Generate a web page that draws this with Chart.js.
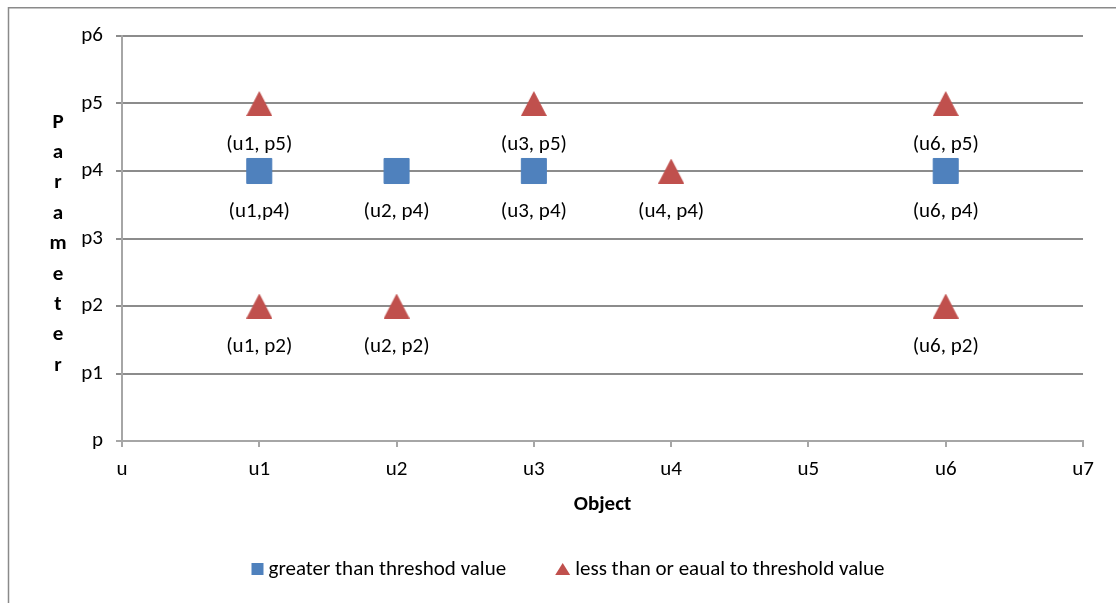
<!DOCTYPE html>
<html>
<head>
<meta charset="utf-8">
<title>Object / Parameter</title>
<script src="https://cdn.jsdelivr.net/npm/chart.js@4/dist/chart.umd.min.js"></script>
<style>
  html, body { margin: 0; padding: 0; background: #ffffff; }
  #wrap { position: relative; width: 1116px; height: 603px; }
  canvas { display: block; }
</style>
</head>
<body>
<div id="wrap"><canvas id="chart" width="1116" height="603"></canvas></div>
<script>
// Axis tick labels
const xTickLabels = ['u', 'u1', 'u2', 'u3', 'u4', 'u5', 'u6', 'u7'];
const yTickLabels = ['p', 'p1', 'p2', 'p3', 'p4', 'p5', 'p6'];

// Series: greater than threshold
const aboveName = 'greater than threshod value';
const aboveX = [1, 2, 3, 6];
const aboveY = [4, 4, 4, 4];
const aboveLabels = ['(u1,p4)', '(u2, p4)', '(u3, p4)', '(u6, p4)'];

// Series: less than or equal to threshold
const belowName = 'less than or eaual to threshold value';
const belowX = [1, 3, 6, 4, 1, 2, 6];
const belowY = [5, 5, 5, 4, 2, 2, 2];
const belowLabels = ['(u1, p5)', '(u3, p5)', '(u6, p5)', '(u4, p4)', '(u1, p2)', '(u2, p2)', '(u6, p2)'];

const xTitle = 'Object';
const yTitle = 'Parameter';

const FONT = 'Carlito, Lato, "Liberation Sans", sans-serif';
const FS = 21;
const BLUE = '#4F81BD';
const RED = '#C0504D';
const GRID = '#8c8c8c';
const AXIS = '#a6a6a6';

// Triangle marker drawn once into a small canvas and used as a point style
function triangleMarker(w, h, color) {
  const c = document.createElement('canvas');
  c.width = w; c.height = h;
  const g = c.getContext('2d');
  g.fillStyle = color;
  g.beginPath();
  g.moveTo(w / 2, 0);
  g.lineTo(w, h);
  g.lineTo(0, h);
  g.closePath();
  g.fill();
  return c;
}
const triMarker = triangleMarker(26, 25, RED);

const toPoints = (xs, ys) => xs.map((x, i) => ({ x: x, y: ys[i] }));

// Text under every marker
const pointLabels = {
  id: 'pointLabels',
  afterDatasetsDraw(chart) {
    const ctx = chart.ctx;
    ctx.save();
    ctx.font = FS + 'px ' + FONT;
    ctx.fillStyle = '#000000';
    ctx.textAlign = 'center';
    ctx.textBaseline = 'middle';
    chart.data.datasets.forEach((ds, di) => {
      const meta = chart.getDatasetMeta(di);
      meta.data.forEach((el, i) => {
        ctx.fillText(ds.pointText[i], el.x, el.y + 41);
      });
    });
    ctx.restore();
  }
};

// Outer frame, stacked vertical axis title and legend row
const decorations = {
  id: 'decorations',
  afterDraw(chart) {
    const ctx = chart.ctx;
    const area = chart.chartArea;
    ctx.save();
    // frame
    ctx.strokeStyle = '#8a8a8a';
    ctx.lineWidth = 1.5;
    ctx.beginPath();
    ctx.moveTo(8.5, chart.height);
    ctx.lineTo(8.5, 7.75);
    ctx.lineTo(chart.width, 7.75);
    ctx.stroke();

    // vertical title, one letter per line
    ctx.font = 'bold ' + FS + 'px ' + FONT;
    ctx.fillStyle = '#000000';
    ctx.textAlign = 'center';
    ctx.textBaseline = 'middle';
    const step = 30.4;
    const letters = yTitle.split('');
    const midY = (area.top + area.bottom) / 2 + 5.5;
    const startY = midY - step * (letters.length - 1) / 2;
    letters.forEach((ch, i) => ctx.fillText(ch, 58, startY + i * step));

    // legend
    ctx.font = FS + 'px ' + FONT;
    ctx.textAlign = 'left';
    const items = chart.data.datasets.map(ds => ({
      text: ds.label, color: ds.backgroundColor, shape: ds.legendShape,
      w: ctx.measureText(ds.label).width
    }));
    const markW = [12, 15];
    const markGap = 5;
    const itemGap = 49;
    let total = 0;
    items.forEach((it, i) => { total += markW[i] + markGap + it.w; });
    total += itemGap * (items.length - 1);
    let x = 568 - total / 2;
    const ly = 570;
    items.forEach((it, i) => {
      ctx.fillStyle = it.color;
      if (it.shape === 'square') {
        ctx.fillRect(x, ly - 7, 12, 12);
      } else {
        ctx.beginPath();
        ctx.moveTo(x + 7.5, ly - 7);
        ctx.lineTo(x + 15, ly + 5);
        ctx.lineTo(x, ly + 5);
        ctx.closePath();
        ctx.fill();
      }
      x += markW[i] + markGap;
      ctx.fillStyle = '#000000';
      ctx.fillText(it.text, x, ly);
      x += it.w + itemGap;
    });
    ctx.restore();
  }
};

const tickFont = { family: FONT, size: FS };

new Chart(document.getElementById('chart'), {
  type: 'scatter',
  data: {
    datasets: [
      {
        label: aboveName,
        data: toPoints(aboveX, aboveY),
        pointText: aboveLabels,
        legendShape: 'square',
        pointStyle: 'rect',
        pointRadius: 17.7,
        backgroundColor: BLUE,
        borderColor: BLUE,
        borderWidth: 1,
        showLine: false
      },
      {
        label: belowName,
        data: toPoints(belowX, belowY),
        pointText: belowLabels,
        legendShape: 'triangle',
        pointStyle: triMarker,
        pointRadius: 13,
        backgroundColor: RED,
        borderColor: RED,
        showLine: false
      }
    ]
  },
  options: {
    responsive: false,
    animation: false,
    events: [],
    layout: { padding: { left: 10, top: 36, right: 33, bottom: 0 } },
    plugins: {
      legend: { display: false },
      tooltip: { enabled: false }
    },
    scales: {
      x: {
        type: 'linear',
        position: 'bottom',
        min: 0,
        max: 7,
        ticks: {
          stepSize: 1,
          autoSkip: false,
          maxRotation: 0,
          padding: 10,
          color: '#000000',
          font: tickFont,
          callback: v => xTickLabels[v]
        },
        grid: {
          drawOnChartArea: false,
          drawTicks: true,
          tickLength: 6,
          color: AXIS,
          lineWidth: 2
        },
        border: { display: true, color: AXIS, width: 2 },
        title: {
          display: true,
          text: xTitle,
          color: '#000000',
          font: { family: FONT, size: FS, weight: 'bold' },
          padding: { top: 0, bottom: 86 }
        },
        afterFit: s => { s.height = 162; }
      },
      y: {
        type: 'linear',
        min: 0,
        max: 6,
        ticks: {
          stepSize: 1,
          autoSkip: false,
          padding: 13,
          color: '#000000',
          font: tickFont,
          callback: v => yTickLabels[v]
        },
        grid: {
          drawTicks: true,
          tickLength: 6,
          lineWidth: 2,
          color: c => (c.tick && c.tick.value === 0 ? AXIS : GRID)
        },
        border: { display: true, color: AXIS, width: 2 },
        afterFit: s => { s.width = 112; }
      }
    }
  },
  plugins: [pointLabels, decorations]
});
</script>
</body>
</html>
